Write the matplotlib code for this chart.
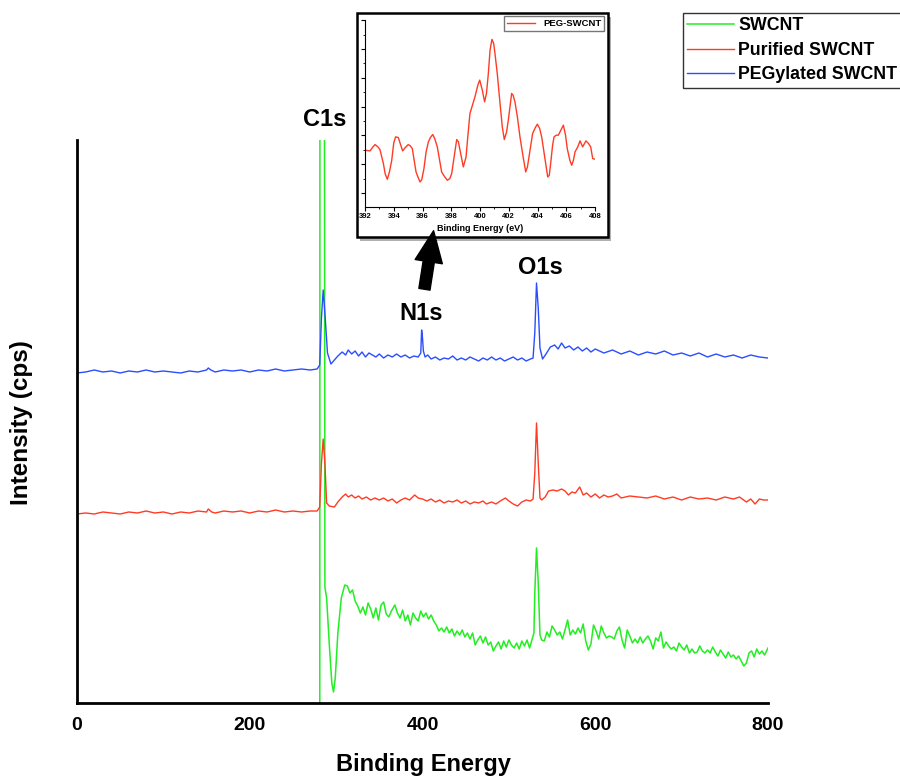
import numpy as np
import matplotlib.pyplot as plt
from matplotlib.patches import Rectangle, FancyArrowPatch
from matplotlib.ticker import MultipleLocator

plt.rcParams['font.family'] = ['Liberation Sans', 'DejaVu Sans']

# --- survey spectra (binding energy in eV, intensity in arbitrary counts) ---
blue_e = [0, 10, 20, 30, 40, 50, 60, 70, 80, 90, 100, 110, 120, 130, 140, 150, 152, 155, 160, 170,
          180, 190, 200, 210, 220, 230, 240, 250, 260, 270, 278, 281, 283, 285, 287, 290, 294, 298, 302, 307,
          311, 314, 318, 322, 326, 330, 334, 338, 342, 346, 350, 355, 360, 365, 370, 375, 380, 385, 390, 395,
          398, 399, 400, 401, 403, 406, 410, 415, 420, 425, 430, 435, 440, 445, 450, 455, 460, 465, 470, 475,
          480, 485, 490, 495, 500, 505, 510, 515, 520, 525, 528, 530, 532, 534, 536, 539, 543, 548, 553, 557,
          561, 565, 570, 575, 580, 585, 590, 595, 600, 610, 620, 630, 640, 650, 660, 670, 680, 690, 700, 710,
          720, 730, 740, 750, 760, 770, 780, 790, 800]
blue_i = [330, 331, 333, 331, 332, 330, 332, 331, 333, 331, 332, 331, 330, 332, 331, 333, 335, 333, 331, 333,
          332, 333, 331, 333, 332, 334, 332, 333, 334, 333, 334, 338, 385, 413, 390, 350, 339, 343, 347, 351,
          348, 353, 349, 352, 347, 351, 346, 350, 348, 346, 349, 345, 348, 346, 349, 346, 348, 345, 347, 346,
          350, 373, 365, 352, 346, 348, 344, 346, 343, 345, 344, 347, 343, 345, 343, 346, 344, 342, 345, 343,
          346, 343, 345, 342, 344, 346, 343, 345, 342, 344, 345, 370, 420, 395, 355, 344, 349, 356, 358, 354,
          360, 355, 357, 353, 356, 352, 355, 351, 354, 350, 353, 349, 352, 348, 351, 349, 352, 348, 350, 347,
          350, 346, 349, 346, 348, 345, 348, 346, 345]

red_e = [0, 10, 20, 30, 40, 50, 60, 70, 80, 90, 100, 110, 120, 130, 140, 150, 152, 156, 160, 170,
         180, 190, 200, 210, 220, 230, 240, 250, 260, 270, 278, 281, 283, 285, 287, 289, 292, 298, 302, 307,
         311, 314, 318, 322, 326, 330, 335, 340, 345, 350, 355, 360, 365, 370, 375, 380, 385, 391, 395, 400,
         405, 410, 415, 420, 425, 430, 435, 440, 445, 450, 455, 460, 465, 470, 474, 480, 485, 490, 496, 500,
         505, 510, 515, 520, 525, 528, 530, 532, 534, 536, 538, 542, 546, 551, 556, 561, 565, 569, 573, 577,
         582, 586, 590, 595, 600, 605, 610, 615, 620, 625, 630, 640, 650, 660, 670, 680, 690, 700, 710, 720,
         730, 740, 750, 760, 767, 775, 780, 785, 790, 795, 800]
red_i = [189, 190, 189, 191, 190, 189, 191, 190, 192, 190, 191, 189, 191, 190, 192, 191, 194, 191, 190, 192,
         191, 192, 190, 192, 191, 193, 191, 192, 191, 192, 192, 196, 240, 264, 240, 200, 197, 196, 201, 206,
         209, 206, 208, 205, 207, 204, 206, 203, 205, 203, 205, 202, 204, 200, 203, 205, 203, 208, 205, 204,
         202, 204, 201, 203, 200, 202, 201, 203, 200, 202, 199, 201, 200, 202, 199, 201, 199, 202, 205, 202,
         199, 197, 201, 203, 202, 204, 230, 280, 240, 205, 203, 206, 212, 213, 212, 214, 212, 208, 211, 210,
         216, 208, 210, 206, 209, 205, 208, 206, 207, 209, 205, 207, 206, 205, 207, 204, 206, 203, 206, 204,
         205, 203, 206, 204, 206, 201, 204, 199, 204, 203, 203]

green_e = [281, 281.5, 285.5, 287, 289, 292, 295, 297, 299, 302, 306, 310, 313, 316, 319, 322, 325, 328, 331, 334,
           337, 340, 343, 346, 349, 352, 355, 358, 361, 364, 368, 371, 374, 377, 380, 383, 386, 389, 392, 395,
           398, 401, 404, 407, 410, 413, 416, 419, 422, 425, 428, 431, 434, 437, 440, 443, 446, 449, 452, 455,
           458, 461, 464, 467, 470, 473, 476, 479, 482, 485, 488, 491, 494, 497, 500, 503, 506, 509, 512, 515,
           518, 521, 524, 527, 529, 530, 532, 534, 536, 538, 541, 544, 547, 550, 553, 556, 559, 562, 565, 568,
           571, 574, 577, 580, 583, 586, 589, 592, 595, 598, 601, 604, 607, 610, 613, 616, 619, 622, 625, 628,
           631, 634, 637, 640, 643, 646, 649, 652, 655, 658, 661, 664, 667, 670, 673, 676, 679, 682, 685, 688,
           691, 694, 697, 700, 703, 706, 709, 712, 715, 718, 721, 724, 727, 730, 733, 736, 739, 742, 745, 748,
           751, 754, 757, 760, 763, 766, 769, 772, 775, 778, 781, 784, 787, 790, 793, 796, 800]
green_i = [-300, 1500, 1500, 116, 105, 60, 20, 11, 25, 70, 105, 118, 117, 110, 113, 102, 97, 90, 96, 88,
           100, 94, 85, 95, 83, 98, 101, 89, 86, 92, 98, 90, 85, 93, 82, 88, 78, 90, 85, 82,
           92, 86, 90, 84, 88, 82, 78, 72, 75, 71, 76, 70, 74, 67, 72, 68, 73, 66, 70, 64,
           70, 58, 63, 67, 60, 66, 58, 61, 52, 57, 61, 54, 62, 56, 63, 58, 55, 60, 54, 62,
           57, 63, 55, 64, 70, 110, 155, 120, 68, 63, 62, 71, 66, 77, 73, 68, 71, 64, 73, 83,
           68, 73, 69, 75, 70, 79, 62, 53, 59, 78, 72, 64, 77, 70, 65, 67, 66, 64, 72, 76,
           63, 55, 73, 67, 60, 64, 60, 66, 60, 64, 67, 62, 54, 65, 62, 71, 55, 61, 57, 54,
           56, 52, 60, 56, 53, 58, 50, 54, 50, 51, 57, 52, 50, 53, 50, 56, 51, 47, 53, 49,
           45, 51, 46, 48, 44, 47, 42, 37, 40, 50, 52, 46, 54, 49, 52, 48, 55]

# --- N1s high-resolution inset ---
n1s_e = [392.0, 392.35, 392.55, 392.7, 392.9, 393.04, 393.28, 393.4, 393.55, 393.7, 393.86, 394.0, 394.13,
         394.32, 394.45, 394.62, 394.8, 395.01, 395.15, 395.29, 395.55, 395.7, 395.83, 395.95, 396.1, 396.25,
         396.41, 396.55, 396.71, 396.85, 397.03, 397.33, 397.55, 397.73, 397.9, 398.03, 398.2, 398.38, 398.5,
         398.61, 398.84, 399.03, 399.15, 399.3, 399.65, 399.85, 399.98, 400.16, 400.32, 400.45, 400.58, 400.7,
         400.83, 400.95, 401.04, 401.2, 401.35, 401.55, 401.69, 401.85, 401.97, 402.2, 402.3, 402.43, 402.6,
         402.78, 403.0, 403.18, 403.3, 403.48, 403.66, 403.85, 403.99, 404.15, 404.29, 404.5, 404.71, 404.82,
         404.94, 405.05, 405.15, 405.3, 405.45, 405.6, 405.8, 405.95, 406.07, 406.25, 406.38, 406.5, 406.61,
         406.8, 406.96, 407.14, 407.37, 407.55, 407.7, 407.84, 408.0]
n1s_i = [170, 168, 180, 187, 180, 172, 130, 100, 83, 105, 140, 192, 210,
         208, 190, 168, 178, 187, 183, 175, 105, 88, 75, 82, 115, 165,
         195, 208, 217, 205, 180, 105, 90, 80, 85, 100, 150, 202, 195,
         170, 120, 150, 210, 280, 330, 365, 380, 350, 315, 340, 400, 470,
         502, 490, 460, 400, 330, 240, 202, 225, 260, 340, 335, 315, 270,
         210, 150, 105, 120, 170, 220, 238, 248, 235, 210, 150, 90, 95,
         140, 185, 210, 215, 215, 228, 245, 215, 175, 140, 125, 140, 165,
         180, 198, 180, 198, 190, 180, 145, 143]

green_c = '#22ee22'
red_c = '#ff3b24'
blue_c = '#2a4dff'

fig = plt.figure(figsize=(9, 7.78), dpi=100)
W, H = 900, 778

def box(x0, y0, x1, y1):
    return [x0 / W, 1 - y1 / H, (x1 - x0) / W, (y1 - y0) / H]

ax = fig.add_axes(box(77, 140, 768, 703))
l1, = ax.plot(green_e, green_i, color=green_c, lw=1.1)
l2, = ax.plot(red_e, red_i, color=red_c, lw=1.0)
l3, = ax.plot(blue_e, blue_i, color=blue_c, lw=1.0)
ax.set_xlim(0, 800)
ax.set_ylim(0, 563)
ax.set_yticks([])
ax.set_xticks([0, 200, 400, 600, 800])
ax.tick_params(axis='x', length=0, pad=10)
for lab in ax.get_xticklabels():
    lab.set_fontweight('bold')
    lab.set_fontsize(14)
for s in ['top', 'right']:
    ax.spines[s].set_visible(False)
for s in ['left', 'bottom']:
    ax.spines[s].set_linewidth(2)

ax.text(287, 584, 'C1s', ha='center', va='center', fontsize=17, fontweight='bold', clip_on=False)
ax.text(398, 389, 'N1s', ha='center', va='center', fontsize=17, fontweight='bold')
ax.text(536, 435, 'O1s', ha='center', va='center', fontsize=17, fontweight='bold')

fig.text(423 / W, 1 - 765 / H, 'Binding Energy', ha='center', va='center', fontsize=17,
         fontweight='bold')
fig.text(22 / W, 1 - 423 / H, 'Intensity (cps)', ha='center', va='center', rotation=90,
         fontsize=17.5, fontweight='bold')

fig.legend([l1, l2, l3], ['SWCNT', 'Purified SWCNT', 'PEGylated SWCNT'],
           loc='upper left', bbox_to_anchor=(683 / W, 1 - 13 / H), frameon=True, fancybox=False,
           edgecolor='black', prop={'weight': 'bold', 'size': 12.8}, handlelength=2.6,
           labelspacing=0.42, borderpad=0.25, handletextpad=0.25, borderaxespad=0)

# inset frame with drop shadow
fig.patches.append(Rectangle((360 / W, 1 - 241 / H), 251 / W, 224 / H, transform=fig.transFigure,
                             facecolor='#b0b0b0', edgecolor='none', zorder=2))
fig.patches.append(Rectangle((357 / W, 1 - 237 / H), 251 / W, 224 / H, transform=fig.transFigure,
                             facecolor='white', edgecolor='black', lw=1.8, zorder=2))

ins = fig.add_axes(box(365, 20, 595, 207), zorder=5)
ins.plot(n1s_e, n1s_i, color=red_c, lw=1.0, label='PEG-SWCNT')
ins.set_xlim(392, 408)
ins.set_ylim(0, 560)
ins.xaxis.set_major_locator(MultipleLocator(2))
ins.xaxis.set_minor_locator(MultipleLocator(1))
ins.set_yticks(np.arange(42, 561, 86.3))
ins.set_yticks(np.arange(85, 561, 86.3), minor=True)
ins.set_yticklabels([])
ins.tick_params(axis='both', which='major', length=3, width=0.8, labelsize=5.5, pad=1.5)
ins.tick_params(axis='both', which='minor', length=1.5, width=0.6)
for lab in ins.get_xticklabels():
    lab.set_fontweight('bold')
for s in ['top', 'right']:
    ins.spines[s].set_visible(False)
ins.set_xlabel('Binding Energy (eV)', fontsize=6.5, fontweight='bold', labelpad=3)
ins.legend(loc='upper right', bbox_to_anchor=(604 / W, 1 - 16 / H), bbox_transform=fig.transFigure,
           fancybox=False, edgecolor='#555555', prop={'weight': 'bold', 'size': 6.8},
           handlelength=3, borderpad=0.3, borderaxespad=0)

arrow = FancyArrowPatch((424 / W, 1 - 292 / H), (434 / W, 1 - 228 / H), transform=fig.transFigure,
                        arrowstyle='simple,head_width=1.1,head_length=1.25,tail_width=0.45',
                        mutation_scale=18, color='black', zorder=6)
fig.patches.append(arrow)

fig.savefig('out.png', dpi=100)
